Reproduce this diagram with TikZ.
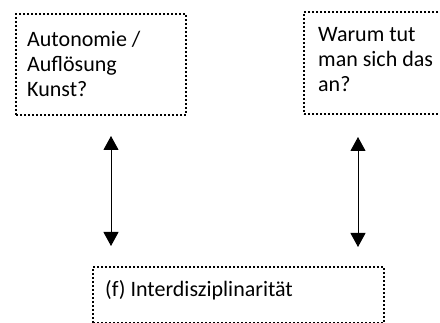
\documentclass[tikz,border=0pt]{standalone}
\usepackage{fontspec}
\setmainfont{Carlito}
\usetikzlibrary{arrows.meta}
\begin{document}
\begin{tikzpicture}[x=1pt,y=-1pt,
  dotbox/.style={draw=black,line width=2pt,dash pattern=on 2pt off 2pt,rectangle,inner sep=0pt,anchor=north west},
  lbl/.style={anchor=base west,inner sep=0pt,align=left,font=\fontsize{22pt}{24.8pt}\selectfont},
  dbl/.style={line width=1pt,{Triangle[width=15pt,length=14pt]}-{Triangle[width=15pt,length=14pt]}}]
\useasboundingbox (0,0) rectangle (440,323);
\node[dotbox,minimum width=170pt,minimum height=101pt] (b1) at (15,13) {};
\node[dotbox,minimum width=150pt,minimum height=102pt] (b2) at (303,11) {};
\node[dotbox,minimum width=291pt,minimum height=56pt] (b3) at (92,266) {};
\node[lbl] (t1) at (27,96.1) {Autonomie /\\Auflösung\\Kunst?};
\node[lbl] (t2) at (318,91.4) {Warum tut\\man sich das\\an?};
\node[lbl] (t3) at (105,296.7) {(f) Interdisziplinarität};
\coordinate (l1) at (111,136);
\coordinate (l2) at (111,246);
\coordinate (r1) at (358,137);
\coordinate (r2) at (358,247);
\draw[dbl] (l1) -- (l2);
\draw[dbl] (r1) -- (r2);
\end{tikzpicture}
\end{document}
